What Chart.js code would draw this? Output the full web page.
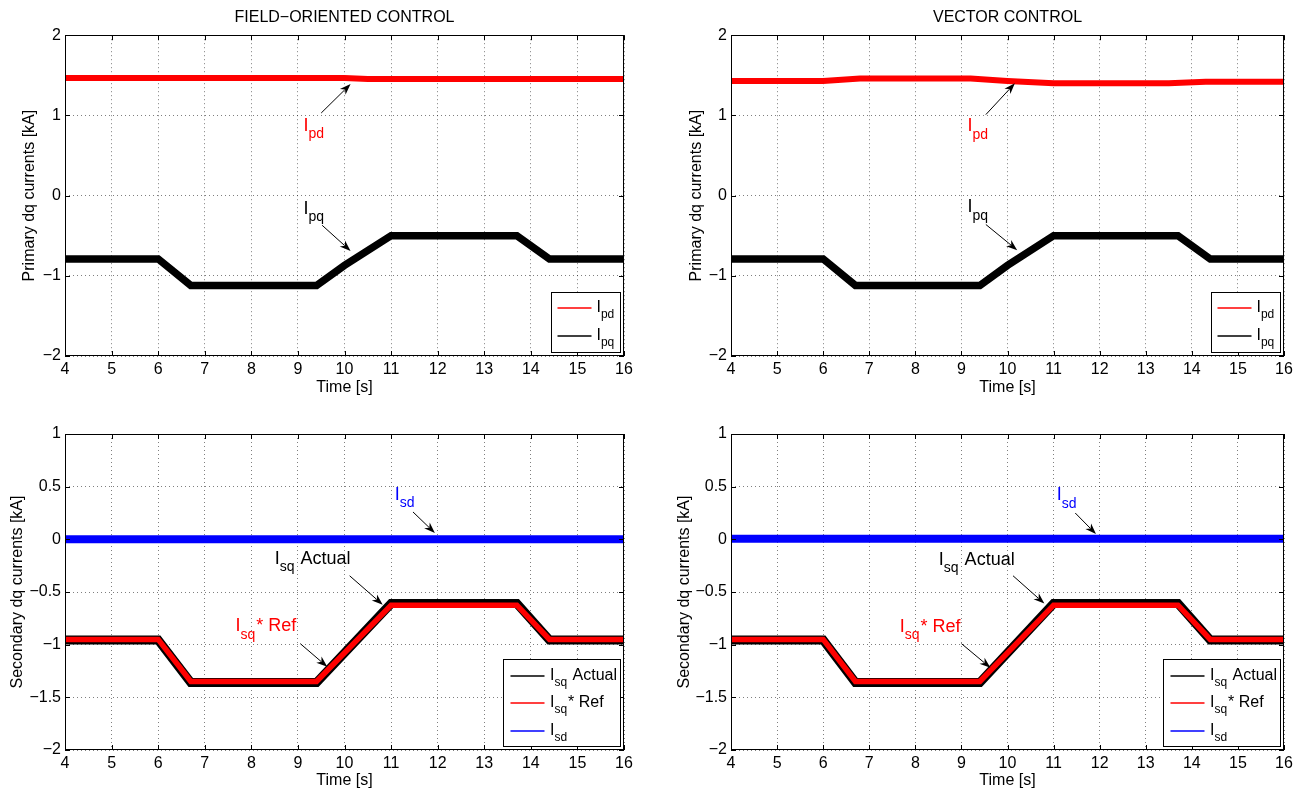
<!DOCTYPE html>
<html><head><meta charset="utf-8">
<script src="https://cdn.jsdelivr.net/npm/chart.js@4.4.1/dist/chart.umd.min.js"></script>
<style>
html,body{margin:0;padding:0;background:#fff;}
#wrap{position:relative;width:1304px;height:794px;overflow:hidden;}
canvas{position:absolute;}
</style></head><body>
<div id="wrap">
<canvas id="c1" width="652" height="397" style="left:0;top:0"></canvas>
<canvas id="c2" width="652" height="397" style="left:652px;top:0"></canvas>
<canvas id="c3" width="652" height="397" style="left:0;top:397px"></canvas>
<canvas id="c4" width="652" height="397" style="left:652px;top:397px"></canvas>
</div>
<script>
// ---------------- DATA ----------------
const xTicks = [4,5,6,7,8,9,10,11,12,13,14,15,16];
const primaryYTicks = [-2,-1,0,1,2];
const secondaryYTicks = [-2,-1.5,-1,-0.5,0,0.5,1];

// Field-oriented control, primary currents
const focIpdTime = [4, 10, 10.5, 16];
const focIpd     = [1.465, 1.465, 1.455, 1.455];
const focIpqTime = [4, 6, 6.7, 9.4, 10, 11, 13.7, 14.4, 16];
const focIpq     = [-0.79, -0.79, -1.12, -1.12, -0.87, -0.50, -0.50, -0.79, -0.79];

// Vector control, primary currents
const vcIpdTime = [4, 6, 6.8, 9.2, 10, 11, 13.5, 14.3, 16];
const vcIpd     = [1.43, 1.43, 1.46, 1.46, 1.43, 1.40, 1.40, 1.42, 1.42];
const vcIpqTime = [4, 6, 6.7, 9.4, 10, 11, 13.7, 14.4, 16];
const vcIpq     = [-0.79, -0.79, -1.12, -1.12, -0.87, -0.50, -0.50, -0.79, -0.79];

// Secondary currents (both controls)
const isqTime      = [4, 6, 6.7, 9.4, 11, 13.7, 14.4, 16];
const focIsqActual = [-0.955, -0.955, -1.36, -1.36, -0.61, -0.61, -0.955, -0.955];
const focIsqRef    = [-0.95, -0.95, -1.35, -1.35, -0.625, -0.625, -0.95, -0.95];
const vcIsqActual  = [-0.955, -0.955, -1.36, -1.36, -0.61, -0.61, -0.955, -0.955];
const vcIsqRef     = [-0.95, -0.95, -1.35, -1.35, -0.625, -0.625, -0.95, -0.95];
const isdTime      = [4, 16];
const focIsd       = [0.0, 0.0];
const vcIsd        = [0.005, 0.005];

// ---------------- HELPERS ----------------
const FONT = '"Liberation Sans", Arial, Helvetica, sans-serif';
const RED = '#ff0000', BLACK = '#000000', BLUE = '#0000ff';
const pts = (xs, ys) => xs.map((x, i) => ({x, y: ys[i]}));
const fmt = v => String(v).replace('-', '\u2212');

function richText(ctx, x, y, parts, size, color) {
  ctx.save();
  ctx.fillStyle = color;
  ctx.textAlign = 'left';
  ctx.textBaseline = 'alphabetic';
  let cx = x;
  for (const [t, type] of parts) {
    if (type === 's') {
      ctx.font = Math.round(size * 0.78) + 'px ' + FONT;
      ctx.fillText(t, cx, y + size * 0.4);
      cx += ctx.measureText(t).width + 1;
    } else {
      ctx.font = size + 'px ' + FONT;
      ctx.fillText(t, cx, y);
      cx += ctx.measureText(t).width;
    }
  }
  ctx.restore();
}

function arrow(ctx, x1, y1, x2, y2) {
  ctx.save();
  ctx.strokeStyle = '#000'; ctx.fillStyle = '#000'; ctx.lineWidth = 1;
  const a = Math.atan2(y2 - y1, x2 - x1);
  const L = 11, W = 4;
  const bx = x2 - L * Math.cos(a), by = y2 - L * Math.sin(a);
  ctx.beginPath(); ctx.moveTo(x1, y1); ctx.lineTo(bx + 3 * Math.cos(a), by + 3 * Math.sin(a)); ctx.stroke();
  ctx.beginPath();
  ctx.moveTo(x2, y2);
  ctx.lineTo(bx + W * Math.sin(a), by - W * Math.cos(a));
  ctx.lineTo(x2 - 0.7 * L * Math.cos(a), y2 - 0.7 * L * Math.sin(a));
  ctx.lineTo(bx - W * Math.sin(a), by + W * Math.cos(a));
  ctx.closePath(); ctx.fill();
  ctx.restore();
}

const decorPlugin = {
  id: 'decor',
  afterDatasetsDraw(chart, args, opts) {
    const ctx = chart.ctx, ca = chart.chartArea;
    const xs = chart.scales.x, ys = chart.scales.y;
    ctx.save();
    // box
    ctx.strokeStyle = '#000'; ctx.lineWidth = 1;
    ctx.strokeRect(Math.round(ca.left) + 0.5, Math.round(ca.top) + 0.5,
                   Math.round(ca.right - ca.left) - 1, Math.round(ca.bottom - ca.top) - 1);
    // inward ticks
    const tl = 5;
    ctx.beginPath();
    xs.ticks.forEach(t => {
      const px = Math.round(xs.getPixelForValue(t.value)) + 0.5;
      ctx.moveTo(px, ca.bottom); ctx.lineTo(px, ca.bottom - tl);
      ctx.moveTo(px, ca.top); ctx.lineTo(px, ca.top + tl);
    });
    ys.ticks.forEach(t => {
      const py = Math.round(ys.getPixelForValue(t.value)) + 0.5;
      ctx.moveTo(ca.left, py); ctx.lineTo(ca.left + tl, py);
      ctx.moveTo(ca.right, py); ctx.lineTo(ca.right - tl, py);
    });
    ctx.stroke();
    // annotations
    (opts.notes || []).forEach(n => {
      const ax1 = xs.getPixelForValue(n.arrow[0]), ay1 = ys.getPixelForValue(n.arrow[1]);
      const ax2 = xs.getPixelForValue(n.arrow[2]), ay2 = ys.getPixelForValue(n.arrow[3]);
      arrow(ctx, ax1, ay1, ax2, ay2);
      richText(ctx, xs.getPixelForValue(n.at[0]), ys.getPixelForValue(n.at[1]), n.parts, 18, n.color);
    });
    // legend
    const lg = opts.legend;
    if (lg) {
      const bx = Math.round(ca.right - lg.inset - lg.w) + 0.5;
      const by = Math.round(ca.bottom - lg.inset - lg.h) + 0.5;
      ctx.fillStyle = '#fff'; ctx.fillRect(bx, by, lg.w, lg.h);
      ctx.strokeStyle = '#000'; ctx.lineWidth = 1; ctx.strokeRect(bx, by, lg.w, lg.h);
      lg.items.forEach((it, i) => {
        const ly = Math.round(by + lg.row0 + i * lg.step);
        ctx.save();
        ctx.strokeStyle = it.color; ctx.lineWidth = 1.5; ctx.setLineDash([]);
        ctx.beginPath(); ctx.moveTo(bx + lg.l0, ly); ctx.lineTo(bx + lg.l1, ly); ctx.stroke();
        ctx.restore();
        richText(ctx, bx + lg.tx, ly + 4, it.parts, 16, '#000');
      });
    }
    ctx.restore();
  }
};

function makeChart(id, cfg) {
  const yTickVals = cfg.yTicks;
  return new Chart(document.getElementById(id), {
    type: 'line',
    data: { datasets: cfg.datasets.map(d => ({
      label: d.label, data: d.data, borderColor: d.color, backgroundColor: d.color,
      borderWidth: d.width, pointRadius: 0, tension: 0, fill: false, clip: 0,
      borderJoinStyle: 'miter', order: d.order
    })) },
    options: {
      responsive: false, animation: false, devicePixelRatio: 1,
      layout: { padding: { top: cfg.padTop, right: cfg.padRight, left: 0, bottom: 0 } },
      plugins: {
        legend: { display: false }, tooltip: { enabled: false },
        title: cfg.title ? {
          display: true, text: cfg.title, fullSize: false, color: '#000',
          font: { family: FONT, size: 16, weight: 'normal' },
          padding: { top: 8, bottom: 8 }
        } : { display: false },
        decor: { notes: cfg.notes, legend: cfg.legend }
      },
      scales: {
        x: {
          type: 'linear', min: 4, max: 16,
          afterBuildTicks: s => { s.ticks = xTicks.map(v => ({value: v})); },
          afterFit: s => { s.height = cfg.xH; },
          ticks: { color: '#000', font: { family: FONT, size: 16 }, padding: 4, maxRotation: 0, autoSkip: false,
                   callback: v => fmt(v) },
          grid: { color: 'rgba(0,0,0,0.5)', lineWidth: 1, drawTicks: false },
          border: { display: false, dash: [1, 3] },
          title: { display: true, text: 'Time [s]', color: '#000',
                   font: { family: FONT, size: 16 }, padding: { top: 0, bottom: cfg.xTitlePad } }
        },
        y: {
          type: 'linear', min: yTickVals[0], max: yTickVals[yTickVals.length - 1],
          afterBuildTicks: s => { s.ticks = yTickVals.map(v => ({value: v})); },
          afterFit: s => { s.width = cfg.yW; },
          ticks: { color: '#000', font: { family: FONT, size: 16 }, padding: 4, autoSkip: false,
                   callback: v => fmt(v) },
          grid: { color: 'rgba(0,0,0,0.5)', lineWidth: 1, drawTicks: false },
          border: { display: false, dash: [1, 3] },
          title: { display: true, text: cfg.yTitle, color: '#000',
                   font: { family: FONT, size: 16 }, padding: { top: cfg.yTitlePad, bottom: 0 } }
        }
      }
    },
    plugins: [decorPlugin]
  });
}

const primaryLegend = { w: 69, h: 60, inset: 4, row0: 15.6, step: 27.4, l0: 6, l1: 40, tx: 45,
  items: [ { color: RED, parts: [['I','n'],['pd','s']] }, { color: BLACK, parts: [['I','n'],['pq','s']] } ] };
const secondaryLegend = { w: 117, h: 87, inset: 4.5, row0: 16, step: 27.5, l0: 7, l1: 41, tx: 46.5,
  items: [ { color: BLACK, parts: [['I','n'],['sq','s'],[' Actual','n']] },
           { color: RED, parts: [['I','n'],['sq','s'],['* Ref','n']] },
           { color: BLUE, parts: [['I','n'],['sd','s']] } ] };

makeChart('c1', {
  title: 'FIELD\u2212ORIENTED CONTROL', padTop: 0, padRight: 28, yW: 65, xH: 41,
  xTitlePad: 0, yTitlePad: 20.4, yTitle: 'Primary dq currents [kA]', yTicks: primaryYTicks,
  datasets: [
    { label: 'Ipd', data: pts(focIpdTime, focIpd), color: RED, width: 6, order: 1 },
    { label: 'Ipq', data: pts(focIpqTime, focIpq), color: BLACK, width: 7.5, order: 2 }
  ],
  notes: [
    { parts: [['I','n'],['pd','s']], color: RED, at: [9.12, 0.81], arrow: [9.50, 1.03, 10.13, 1.39] },
    { parts: [['I','n'],['pq','s']], color: BLACK, at: [9.12, -0.226], arrow: [9.52, -0.37, 10.13, -0.69] }
  ],
  legend: primaryLegend
});
makeChart('c2', {
  title: 'VECTOR CONTROL', padTop: 0, padRight: 20, yW: 79, xH: 41,
  xTitlePad: 0, yTitlePad: 35.4, yTitle: 'Primary dq currents [kA]', yTicks: primaryYTicks,
  datasets: [
    { label: 'Ipd', data: pts(vcIpdTime, vcIpd), color: RED, width: 6, order: 1 },
    { label: 'Ipq', data: pts(vcIpqTime, vcIpq), color: BLACK, width: 7.5, order: 2 }
  ],
  notes: [
    { parts: [['I','n'],['pd','s']], color: RED, at: [9.13, 0.80], arrow: [9.53, 1.01, 10.16, 1.40] },
    { parts: [['I','n'],['pq','s']], color: BLACK, at: [9.13, -0.21], arrow: [9.53, -0.36, 10.21, -0.68] }
  ],
  legend: primaryLegend
});
makeChart('c3', {
  title: null, padTop: 37, padRight: 28, yW: 65, xH: 44,
  xTitlePad: 3.5, yTitlePad: 7.8, yTitle: 'Secondary dq currents [kA]', yTicks: secondaryYTicks,
  datasets: [
    { label: 'Isq Actual', data: pts(isqTime, focIsqActual), color: BLACK, width: 9, order: 2 },
    { label: 'Isq* Ref', data: pts(isqTime, focIsqRef), color: RED, width: 5.5, order: 1 },
    { label: 'Isd', data: pts(isdTime, focIsd), color: BLUE, width: 8, order: 3 }
  ],
  notes: [
    { parts: [['I','n'],['sd','s']], color: BLUE, at: [11.08, 0.375], arrow: [11.47, 0.26, 11.94, 0.06] },
    { parts: [['I','n'],['sq','s'],[' Actual','n']], color: BLACK, at: [8.50, -0.237], arrow: [10.11, -0.346, 10.82, -0.62] },
    { parts: [['I','n'],['sq','s'],['* Ref','n']], color: RED, at: [7.66, -0.874], arrow: [9.05, -0.99, 9.63, -1.21] }
  ],
  legend: secondaryLegend
});
makeChart('c4', {
  title: null, padTop: 37, padRight: 20, yW: 79, xH: 44,
  xTitlePad: 3.5, yTitlePad: 23.2, yTitle: 'Secondary dq currents [kA]', yTicks: secondaryYTicks,
  datasets: [
    { label: 'Isq Actual', data: pts(isqTime, vcIsqActual), color: BLACK, width: 9, order: 2 },
    { label: 'Isq* Ref', data: pts(isqTime, vcIsqRef), color: RED, width: 5.5, order: 1 },
    { label: 'Isd', data: pts(isdTime, vcIsd), color: BLUE, width: 8, order: 3 }
  ],
  notes: [
    { parts: [['I','n'],['sd','s']], color: BLUE, at: [11.07, 0.37], arrow: [11.47, 0.25, 11.92, 0.05] },
    { parts: [['I','n'],['sq','s'],[' Actual','n']], color: BLACK, at: [8.51, -0.24], arrow: [10.12, -0.346, 10.80, -0.61] },
    { parts: [['I','n'],['sq','s'],['* Ref','n']], color: RED, at: [7.66, -0.88], arrow: [9.0, -0.99, 9.63, -1.22] }
  ],
  legend: secondaryLegend
});
</script>
</body></html>
